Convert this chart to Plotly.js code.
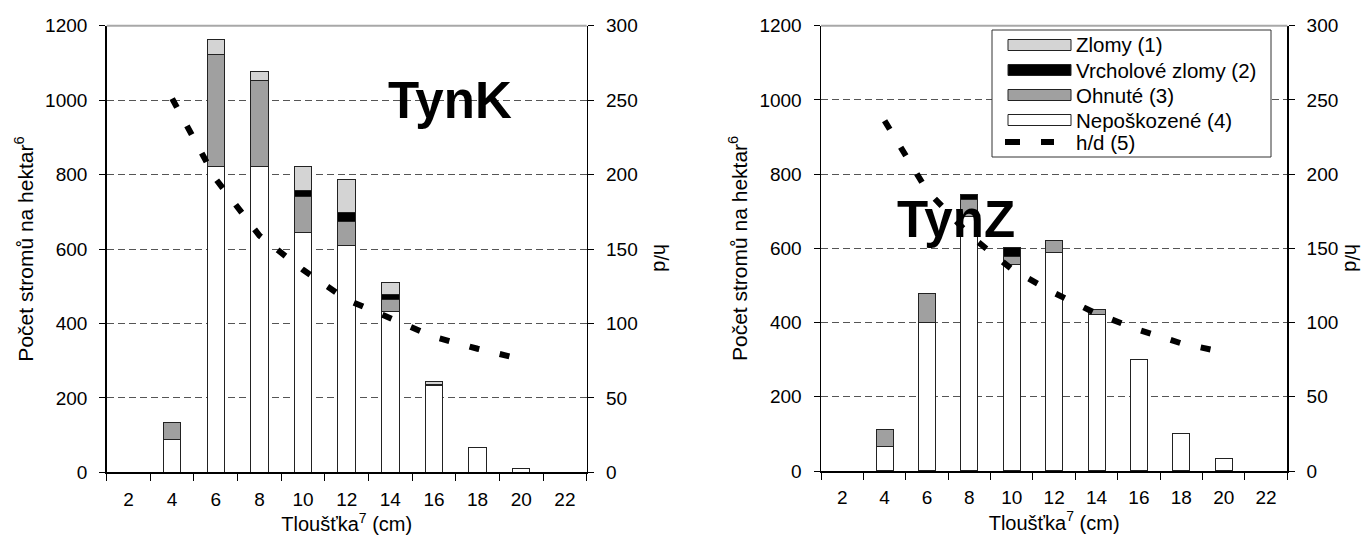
<!DOCTYPE html>
<html><head><meta charset="utf-8">
<script src="https://cdn.plot.ly/plotly-3.0.1.min.js"></script>
<style>html,body{margin:0;padding:0;background:#fff}#chart{width:1366px;height:551px}</style>
</head><body><div id="chart"></div>
<script>
// ---- data ----
const diameters = [2, 4, 6, 8, 10, 12, 14, 16, 18, 20, 22];
const tickLabels = ['2','4','6','8','10','12','14','16','18','20','22'];
const seriesNames = ['Zlomy (1)', 'Vrcholové zlomy (2)', 'Ohnuté (3)', 'Nepoškozené (4)', 'h/d (5)'];

// TynK (left)
const tynkNeposkozene = [0, 87, 821, 821, 644, 610, 433, 233, 66, 10, 0];
const tynkOhnute      = [0, 46, 301, 233, 98, 65, 30, 3, 0, 0, 0];
const tynkVrcholove   = [0, 0, 0, 0, 14, 24, 15, 0, 0, 0, 0];
const tynkZlomy       = [0, 0, 42, 22, 65, 88, 32, 9, 0, 0, 0];

// TynZ (right)
const tynzNeposkozene = [0, 67, 400, 687, 556, 590, 422, 300, 100, 33, 0];
const tynzOhnute      = [0, 44, 77, 46, 22, 31, 12, 0, 0, 0, 0];
const tynzVrcholove   = [0, 0, 0, 11, 23, 0, 0, 0, 0, 0, 0];
const tynzZlomy       = [0, 0, 0, 0, 0, 0, 0, 0, 0, 0, 0];

// h/d lines
const hdDiameters = [4, 6, 8, 10, 12, 14, 16, 18, 20];
const tynkHd = [251, 197, 159, 136, 116, 103, 91, 83, 76];
const tynzHd = [236, 189, 159, 136, 120, 106, 95, 86, 80];

const panelLabels = ['TynK', 'TynZ'];

// ---- styling ----
const W = 1366, H = 551;
const px = v => v / W;
const py = v => 1 - v / H;
const FONT = 'Liberation Sans, Arial, sans-serif';
const colors = ['#d4d4d4', '#000000', '#a0a0a0', '#ffffff'];
const outline = {color: '#222', width: 1};
const boundaries = [1,3,5,7,9,11,13,15,17,19,21,23];

function bars(xa, ya, n, o, v, z) {
  const stacks = [[n, 3], [o, 2], [v, 1], [z, 0]];
  return stacks.map(([vals, ci]) => ({
    type: 'bar', x: diameters, y: vals.map(q => q === 0 ? null : q),
    xaxis: xa, yaxis: ya, width: 0.8, name: seriesNames[ci],
    marker: {color: colors[ci], line: outline}, showlegend: false, hoverinfo: 'x+y+name'
  }));
}
function hdLine(xa, ya, vals) {
  return {type: 'scatter', mode: 'lines', x: hdDiameters, y: vals, xaxis: xa, yaxis: ya,
    name: seriesNames[4], line: {color: '#000', width: 6, dash: '10px,21px'}, showlegend: false};
}

const data = [
  ...bars('x', 'y', tynkNeposkozene, tynkOhnute, tynkVrcholove, tynkZlomy),
  hdLine('x', 'y2', tynkHd),
  ...bars('x2', 'y3', tynzNeposkozene, tynzOhnute, tynzVrcholove, tynzZlomy),
  hdLine('x2', 'y4', tynzHd)
];

function xAxis(domain, anchor) {
  return {
    domain: domain, anchor: anchor, range: [1, 23], fixedrange: true,
    tickmode: 'array', tickvals: diameters, ticktext: tickLabels, ticks: '',
    ticklabelstandoff: 9,
    minor: {tickmode: 'array', tickvals: boundaries, ticks: 'outside', ticklen: 7, tickcolor: '#000', tickwidth: 1, showgrid: false},
    showline: true, linecolor: '#000', linewidth: 1.5, showgrid: false, zeroline: false,
    tickfont: {size: 19, color: '#000'},
    title: {text: 'Tloušťka<sup>7</sup> (cm)', font: {size: 20, color: '#000'}, standoff: 6},
    automargin: false
  };
}
function yLeft(domain, anchor) {
  return {
    domain: domain, anchor: anchor, range: [0, 1200], dtick: 200, tick0: 0, fixedrange: true,
    ticks: 'outside', ticklen: 6, tickcolor: '#000', ticklabelstandoff: 8,
    showline: true, linecolor: '#000', linewidth: 1.5, zeroline: false,
    showgrid: true, gridcolor: '#555', gridwidth: 1, griddash: '7px,4px',
    tickfont: {size: 19, color: '#000'},
    title: {text: 'Počet stromů na hektar<sup>6</sup>', font: {size: 21, color: '#000'}, standoff: 6},
    automargin: false
  };
}
function yRight(overlay, anchor) {
  return {
    overlaying: overlay, anchor: anchor, side: 'right', range: [0, 300], dtick: 50, tick0: 0, fixedrange: true,
    ticks: 'outside', ticklen: 6, tickcolor: '#000', ticklabelstandoff: 8,
    showline: true, linecolor: '#000', linewidth: 1.5, zeroline: false, showgrid: false,
    tickfont: {size: 19, color: '#000'}, automargin: false
  };
}

const yDomL = [1 - 472.3 / H, 1 - 25.7 / H];
const yDomR = [1 - 471 / H, 1 - 25.7 / H];

const shapes = [
  {type: 'line', xref: 'x domain', yref: 'y domain', x0: 0, x1: 1, y0: 1, y1: 1, line: {color: '#a8a8a8', width: 2}},
  {type: 'line', xref: 'x2 domain', yref: 'y3 domain', x0: 0, x1: 1, y0: 1, y1: 1, line: {color: '#a8a8a8', width: 2}},
  // legend box
  {type: 'rect', xref: 'paper', yref: 'paper', x0: px(992), x1: px(1271), y0: py(157), y1: py(30),
   line: {color: '#333', width: 1}, fillcolor: '#fff'}
];
const annotations = [
  {xref: 'paper', yref: 'paper', x: px(450), y: py(100), xanchor: 'center', yanchor: 'middle', text: panelLabels[0], showarrow: false,
   font: {size: 51, family: FONT, color: '#000', weight: 'bold'}},
  {xref: 'paper', yref: 'paper', x: px(956), y: py(220), xanchor: 'center', yanchor: 'middle', text: panelLabels[1], showarrow: false,
   font: {size: 51, family: FONT, color: '#000', weight: 'bold'}},
  {xref: 'paper', yref: 'paper', x: px(661), y: py(258), xanchor: 'center', yanchor: 'middle', text: 'h/d', textangle: 90, showarrow: false,
   font: {size: 20, color: '#000'}},
  {xref: 'paper', yref: 'paper', x: px(1352), y: py(258), xanchor: 'center', yanchor: 'middle', text: 'h/d', textangle: 90, showarrow: false,
   font: {size: 20, color: '#000'}}
];
// legend rows
const rowY = [45, 70, 95, 120, 142];
[0, 1, 2, 3].forEach(i => {
  shapes.push({type: 'rect', xref: 'paper', yref: 'paper', x0: px(1008), x1: px(1071),
    y0: py(rowY[i] + 5.5), y1: py(rowY[i] - 5.5), fillcolor: colors[i], line: {color: '#222', width: 1}});
});
shapes.push({type: 'line', xref: 'paper', yref: 'paper', x0: px(1005), x1: px(1020), y0: py(rowY[4]), y1: py(rowY[4]), line: {color: '#000', width: 6}});
shapes.push({type: 'line', xref: 'paper', yref: 'paper', x0: px(1041), x1: px(1054), y0: py(rowY[4]), y1: py(rowY[4]), line: {color: '#000', width: 6}});
seriesNames.forEach((nm, i) => {
  annotations.push({xref: 'paper', yref: 'paper', x: px(1074), y: py(rowY[i]), xanchor: 'left', yanchor: 'middle',
    text: nm, showarrow: false, font: {size: 20.5, color: '#000'}});
});

const layout = {
  width: W, height: H, margin: {l: 0, r: 0, t: 0, b: 0},
  paper_bgcolor: '#fff', plot_bgcolor: 'rgba(0,0,0,0)',
  font: {family: FONT, size: 19, color: '#000'},
  barmode: 'stack', showlegend: false,
  xaxis: xAxis([106.7 / W, 586.7 / W], 'y'),
  yaxis: yLeft(yDomL, 'x'),
  yaxis2: yRight('y', 'x'),
  xaxis2: xAxis([821 / W, 1287.3 / W], 'y3'),
  yaxis3: yLeft(yDomR, 'x2'),
  yaxis4: yRight('y3', 'x2'),
  shapes: shapes, annotations: annotations
};

Plotly.newPlot('chart', data, layout, {staticPlot: true, displayModeBar: false});
</script>
</body></html>
